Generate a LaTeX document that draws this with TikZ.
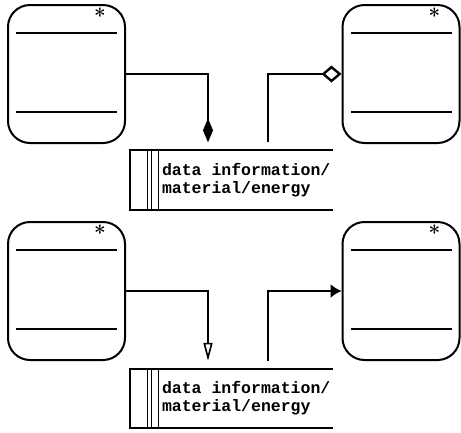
\documentclass[tikz,border=0pt]{standalone}
\usepackage{fontspec}
\setmonofont{Liberation Mono}
\usepackage{tikz}
\usetikzlibrary{arrows.meta}
\tikzstyle{entity} = [draw=black, line width=2pt, rectangle, rounded corners=22pt, minimum width=117pt, minimum height=138pt, inner sep=0pt,
  path picture={
    \draw[line width=1.8pt] ([xshift=8pt,yshift=-28pt]path picture bounding box.north west) -- ([xshift=-8pt,yshift=-28pt]path picture bounding box.north east);
    \draw[line width=1.8pt] ([xshift=8pt,yshift=31pt]path picture bounding box.south west) -- ([xshift=-8pt,yshift=31pt]path picture bounding box.south east);
  }]
\tikzstyle{store} = [rectangle, minimum width=203pt, minimum height=59pt, inner sep=0pt]
\tikzstyle{storetext} = [font=\ttfamily\bfseries\fontsize{16.5}{18}\selectfont, align=left, anchor=west, inner sep=0pt]
\tikzstyle{flow} = [line width=1.6pt]

\begin{document}
\begin{tikzpicture}[x=1pt, y=-1pt]
	\useasboundingbox (0,0) rectangle (461,432);
	% entities
	\node[entity] (A) at (66.5,74) {};
	\node[entity] (B) at (401,74) {};
	\node[entity] (C) at (66.5,291) {};
	\node[entity] (D) at (401,291) {};
	\foreach \e in {A,B,C,D}
		\node[font=\bfseries\huge, inner sep=0pt] (star\e) at ([xshift=-26pt,yshift=-12pt]\e.north east) {*};
	
	% stores
	\node[store] (S1) at (231.5,180) {};
	\node[store] (S2) at (231.5,398.5) {};
	\foreach \s in {S1,S2}{
		\draw[line width=1.8pt] (\s.north east) -- (\s.north west) -- (\s.south west) -- (\s.south east);
		\foreach \dx in {18,22,29}
			\draw[line width=1.3pt] ([xshift=\dx pt]\s.north west) -- ([xshift=\dx pt]\s.south west);
		\node[storetext] (t\s) at ([xshift=32pt]\s.west) {data information/\\material/energy};
	}
	
	% flows
	\coordinate (in1) at ([xshift=-23.5pt]S1.north);
	\coordinate (out1) at ([xshift=36.5pt]S1.north);
	\coordinate (in2) at ([xshift=-23.5pt]S2.north);
	\coordinate (out2) at ([xshift=36.5pt]S2.north);
	\draw[flow, -{Diamond[length=24pt,width=10pt]}, shorten >=8pt] (A.east) -| (in1);
	\draw[flow, -{Diamond[fill=white,length=20pt,width=17pt,line width=2.4pt]}, shorten <=8pt] (out1) |- (B.west);
	\draw[flow, -{Triangle[open,length=18pt,width=9pt,line width=1.6pt]}, shorten >=8pt] (C.east) -| (in2);
	\draw[flow, -{Latex[length=11pt,width=14pt]}, shorten <=8pt] (out2) |- (D.west);
\end{tikzpicture}
\end{document}
